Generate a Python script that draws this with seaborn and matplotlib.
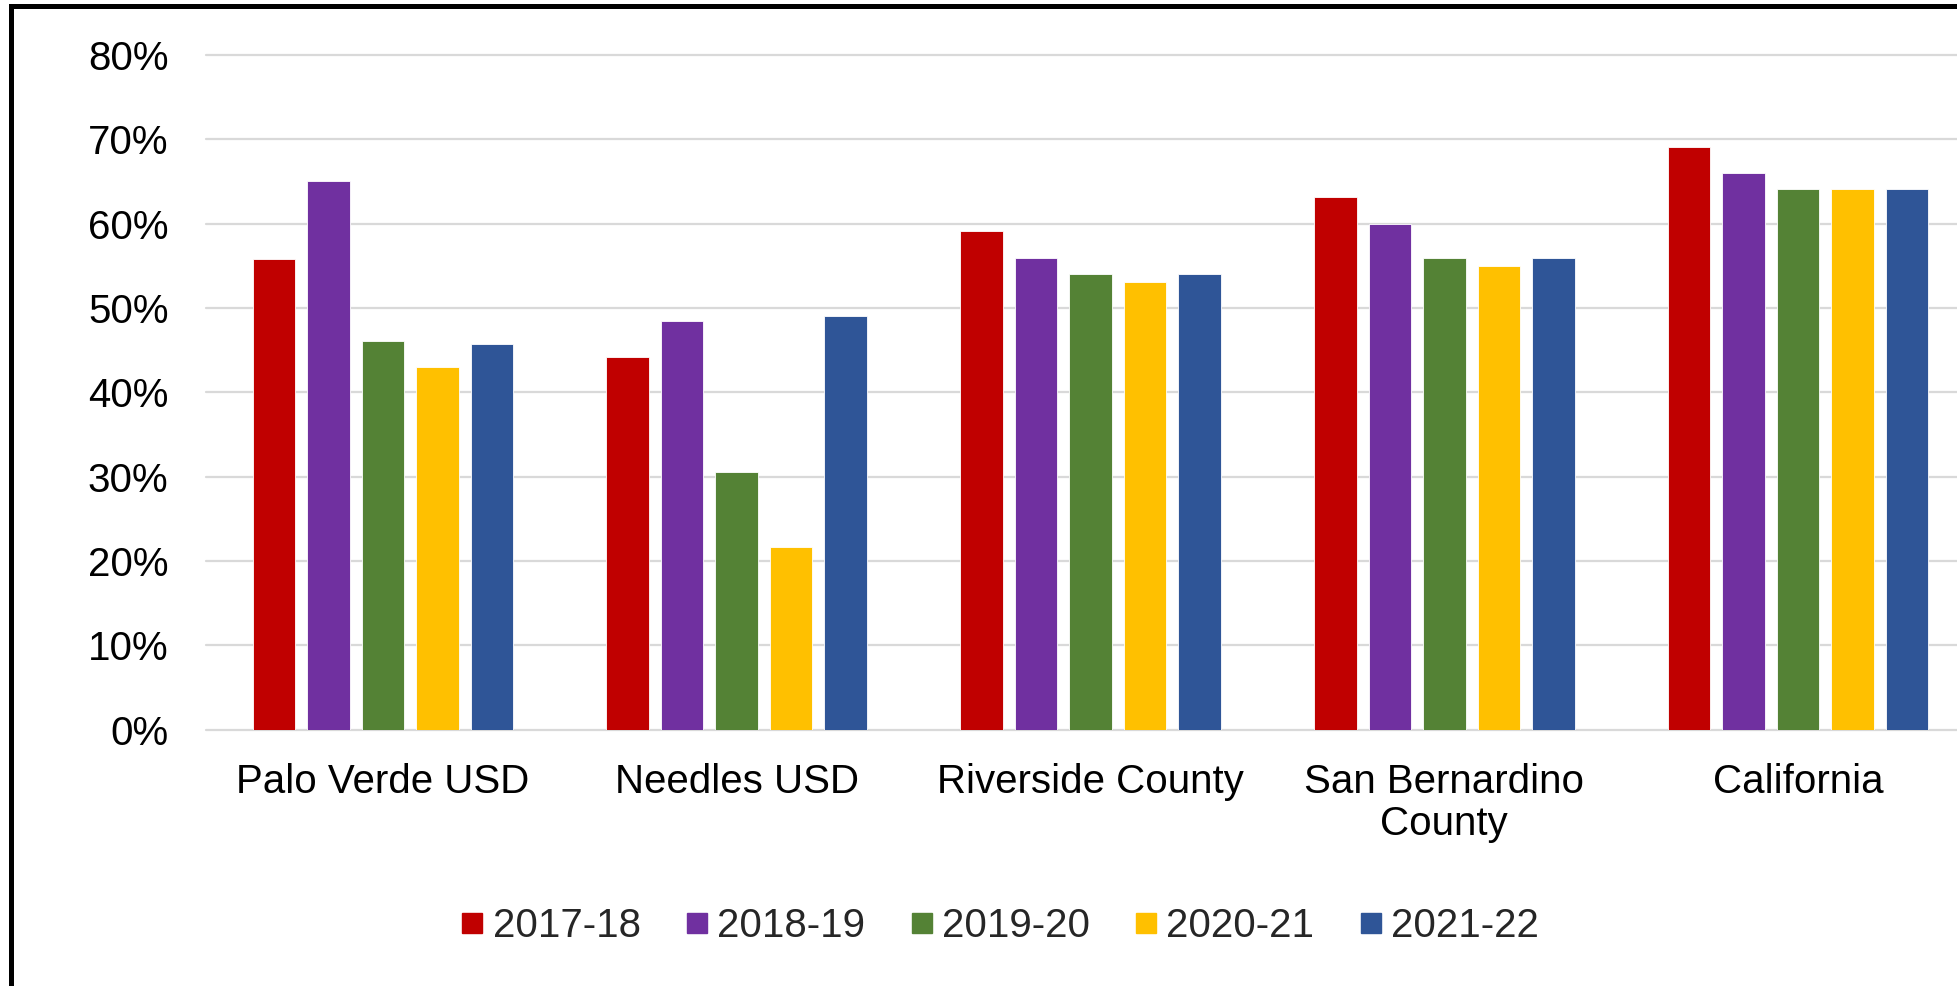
import pandas as pd
import matplotlib
matplotlib.use("Agg")
import matplotlib.pyplot as plt
import seaborn as sns
from matplotlib.lines import Line2D
from matplotlib.ticker import PercentFormatter

# data
categories = ["Palo Verde USD", "Needles USD", "Riverside County",
              "San Bernardino\nCounty", "California"]
years = ["2017-18", "2018-19", "2019-20", "2020-21", "2021-22"]
vals_1718 = [0.558, 0.442, 0.591, 0.632, 0.691]
vals_1819 = [0.651, 0.484, 0.559, 0.600, 0.660]
vals_1920 = [0.461, 0.306, 0.540, 0.559, 0.641]
vals_2021 = [0.430, 0.216, 0.531, 0.550, 0.641]
vals_2122 = [0.457, 0.490, 0.540, 0.559, 0.641]
colors = ["#C00000", "#7030A0", "#548235", "#FFC000", "#2F5597"]

rows = []
for yr, vals in zip(years, [vals_1718, vals_1819, vals_1920, vals_2021, vals_2122]):
    for cat, v in zip(categories, vals):
        rows.append({"cat": cat, "year": yr, "value": v})
df = pd.DataFrame(rows)

sns.set_theme(style="white")
plt.rcParams["font.family"] = ["Liberation Sans", "DejaVu Sans"]
FS = 29

W, H = 1957, 986
fig = plt.figure(figsize=(W / 100, H / 100), dpi=100)
ax_left, ax_right = 206, 1975
ax_top, ax_bot = 55, 729.6
ax = fig.add_axes([ax_left / W, 1 - ax_bot / H, (ax_right - ax_left) / W, (ax_bot - ax_top) / H])

sns.barplot(data=df, x="cat", y="value", hue="year", order=categories, hue_order=years,
            palette=colors, saturation=1, width=0.77, gap=0.22, ax=ax,
            edgecolor="white", linewidth=0.6, legend=False)

ax.set_xlim(-0.5, 4.5)
ax.set_ylim(0, 0.8)
ax.set_yticks([i / 10 for i in range(9)])
ax.yaxis.set_major_formatter(PercentFormatter(1.0, decimals=0))
ax.grid(axis="y", color="#d9d9d9", linewidth=1.6)
for gl in ax.get_ygridlines():
    gl.set_clip_on(False)
ax.set_axisbelow(True)
for s in ax.spines.values():
    s.set_visible(False)
ax.tick_params(axis="y", length=0, pad=27, labelsize=FS, colors="black")
ax.tick_params(axis="x", length=0, pad=24, labelsize=FS, colors="black")
for lbl in ax.get_xticklabels():
    lbl.set_linespacing(1.12)
ax.set_xlabel("")
ax.set_ylabel("")

# legend
handles = [Line2D([0], [0], marker="s", linestyle="none", markersize=14.5,
                  markerfacecolor=c, markeredgecolor=c) for c in colors]
fig.legend(handles, years, loc="center", bbox_to_anchor=(1000.5 / W, 1 - 926 / H),
           ncol=5, frameon=False, fontsize=FS, handlelength=0.5, handletextpad=0.25,
           columnspacing=1.15, borderpad=0)

# outer frame, left and top only visible (the rest is cropped)
fig.add_artist(Line2D([10.8 / W, 10.8 / W], [0, 1 - 5.8 / H], transform=fig.transFigure,
                      color="black", linewidth=3.6, solid_capstyle="projecting"))
fig.add_artist(Line2D([10.8 / W, 1], [1 - 5.8 / H, 1 - 5.8 / H], transform=fig.transFigure,
                      color="black", linewidth=3.6, solid_capstyle="projecting"))

fig.savefig("out.png", dpi=100, facecolor="white")
